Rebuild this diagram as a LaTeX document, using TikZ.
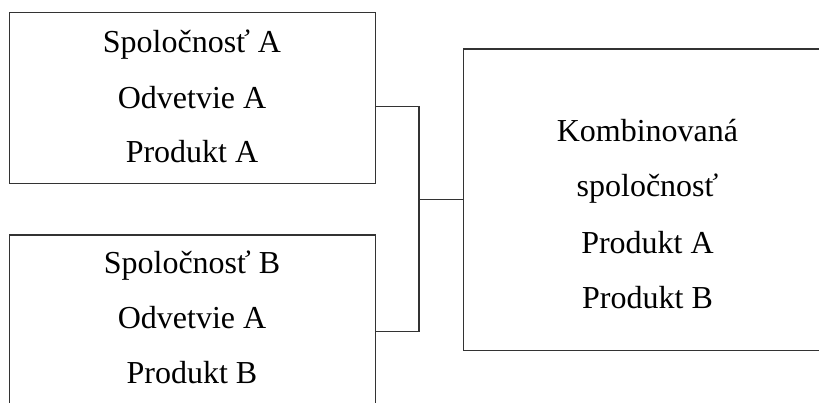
\documentclass[tikz,border=0pt]{standalone}
\usepackage{fontspec}
\setmainfont{Liberation Serif}
\begin{document}
\begin{tikzpicture}[x=0.75pt,y=-0.75pt,
  box/.style={draw=black!80, line width=0.8pt, rectangle, inner sep=0pt, anchor=north west},
  txt/.style={anchor=base, inner sep=0pt, font=\fontsize{24}{28}\selectfont},
  link/.style={draw=black!80, line width=0.8pt}]
\useasboundingbox (0,0) rectangle (819,403);
\clip (0,0) rectangle (819,403);
% three boxes
\node[box, minimum width=366*0.75pt, minimum height=171*0.75pt] (A) at (9,12) {};
\node[box, minimum width=366*0.75pt, minimum height=171*0.75pt] (B) at (9,234.5) {};
\node[box, minimum width=369*0.75pt, minimum height=301*0.75pt] (C) at (463,48.5) {};
% texts
\node[txt] (a1) at (192,53) {Spoločnosť A};
\node[txt] (a2) at (192,109) {Odvetvie A};
\node[txt] (a3) at (192,163) {Produkt A};
\node[txt] (b1) at (192,273) {Spoločnosť B};
\node[txt] (b2) at (192,329) {Odvetvie A};
\node[txt] (b3) at (192,383) {Produkt B};
\node[txt] (c1) at (647.5,142) {Kombinovaná};
\node[txt] (c2) at (647.5,197) {spoločnosť};
\node[txt] (c3) at (647.5,253) {Produkt A};
\node[txt] (c4) at (647.5,308) {Produkt B};
% connectors
\coordinate (bus) at (419,0);
\draw[link] ([yshift=-6.4pt]A.east) -| ([yshift=-8.25pt]bus |- B.east) -- ([yshift=-8.25pt]B.east);
\draw[link] (bus |- C.west) -- (C.west);
\end{tikzpicture}
\end{document}
